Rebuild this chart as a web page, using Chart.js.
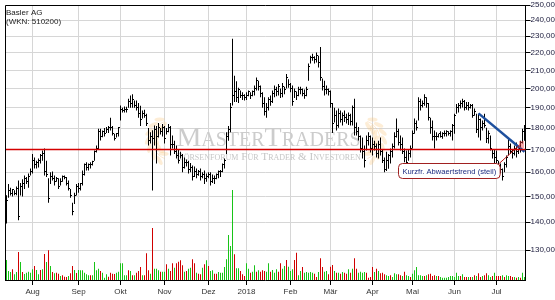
<!DOCTYPE html>
<html>
<head>
<meta charset="utf-8">
<script src="https://cdn.jsdelivr.net/npm/chart.js@4.4.1/dist/chart.umd.min.js"></script>
<style>
  html, body { margin: 0; padding: 0; background: #fff; }
</style>
</head>
<body>
<canvas id="chart-kurs" width="555" height="300"></canvas>
<script>
/* ═══════════════════════════════════════
   Basler AG — Tageschart mit Volumen
═══════════════════════════════════════ */

/* ── Daten ── */
const titel      = ['Basler AG', '(WKN: 510200)'];
const ersterTag  = '2017-07-13';
const letzterTag = '2018-07-20';
const feiertage  = ['2017-12-25', '2017-12-26', '2018-01-01', '2018-03-30', '2018-04-02', '2018-05-01', '2018-05-21'];
const monate     = ['Jan', 'Feb', 'Mär', 'Apr', 'Mai', 'Jun', 'Jul', 'Aug', 'Sep', 'Okt', 'Nov', 'Dez'];
const yTicks     = [130, 140, 150, 160, 170, 180, 190, 200, 210, 220, 230, 240, 250];

const hoch = [
  150.5, 155, 153.5, 153, 152.5, 154, 156.5, 155.5, 157, 158.6,
  158, 159.5, 161.6, 168, 166.4, 165, 166, 168, 169.5, 170.5,
  165, 157.4, 160, 160.3, 158.6, 158, 157.4, 157.4, 158.6, 158.6,
  158, 156.5, 153, 147.5, 151.5, 155, 155.5, 155.5, 160.7, 163.8,
  164.3, 163.8, 164.3, 165, 169.5, 171.8, 179.7, 179.7, 178.8, 180,
  180.5, 181, 185, 181, 177.3, 177.7, 180.5, 191.2, 190, 190.7,
  190.5, 194.7, 196.3, 197, 193.7, 193.7, 192.5, 191, 188.6, 189,
  187, 180, 178, 179, 181.2, 181, 182.5, 180, 182, 181,
  180, 182, 181, 176.5, 174, 171.8, 170, 169, 168, 166.4,
  165.5, 165, 164, 162.9, 162.5, 161.6, 161, 161.6, 160, 160.7,
  159.5, 160, 160, 159, 158.6, 159.5, 160.7, 161, 163.8, 166,
  178, 181, 192.5, 228.5, 207, 204, 200.5, 199, 198, 197,
  198, 199, 198, 199, 201.6, 206, 204.3, 201.6, 198, 195.4,
  192.5, 195.4, 196.3, 199, 201.6, 201, 202.5, 200, 203, 201,
  208, 205, 203, 201.6, 200, 198.5, 201, 201, 200, 199.5,
  201, 213.8, 218.4, 219.5, 218, 220.2, 218.4, 223.5, 205.4, 204.3,
  201.6, 200, 199, 192.5, 190, 188.6, 189.6, 188.6, 187.6, 188.6,
  187, 187.6, 187, 191.2, 194.7, 182.7, 180.5, 176.5, 175.5, 171.8,
  176.5, 178, 176.5, 175.5, 174, 172.7, 174, 175.5, 170, 166.4,
  169, 168, 170.5, 172.7, 178, 184.7, 179.7, 176.5, 175.5, 170.5,
  169.5, 170, 171.8, 178.8, 184.7, 183.7, 195.4, 194.7, 193.7, 197,
  195.4, 192.5, 185, 183.7, 178.8, 178, 177.3, 178.5, 178, 178.8,
  179, 178.5, 179, 182, 187, 192, 192.5, 193.7, 194.7, 194,
  193, 193, 192, 192, 189.6, 187, 187, 184.7, 183.7, 187,
  180.2, 178.8, 176.5, 170, 170, 169.5, 165, 163.8, 161.6, 164.3,
  167.3, 175.5, 172.7, 170, 171.8, 173.2, 170.5, 174, 179.7, 181.5
];

const tief = [
  139.5, 149.5, 150.4, 150, 150.5, 150.5, 140.7, 150.4, 150, 153,
  155, 153.5, 158.6, 159.5, 161.6, 161.6, 162, 163.8, 165, 158.6,
  158, 147.5, 155, 156.5, 154.4, 156, 153, 154.4, 156, 157,
  154.4, 152.4, 149.5, 142.6, 147, 150.4, 151.5, 152.4, 154.4, 158.6,
  160.7, 160.7, 161.6, 162.9, 165, 168.6, 170, 174.1, 175.7, 176,
  177.6, 177.6, 178.8, 176.5, 174.1, 175.5, 176, 183.7, 187.6, 187.6,
  187.6, 190, 190, 190, 190, 188.6, 185, 181, 184.7, 185,
  181, 171.8, 172.7, 152.4, 171.8, 163.8, 175.5, 177, 176, 172.7,
  177, 178, 167.3, 170.5, 168, 166, 163.8, 166, 160, 161.6,
  162.5, 159.5, 160, 156.5, 158, 157.4, 158.5, 156.5, 157.4, 155,
  156, 157.4, 154.4, 155.5, 155, 157, 157.4, 158, 160, 161.6,
  168, 174, 178, 191.2, 193, 193, 192.5, 195, 194, 193.7,
  194, 196, 194.5, 196, 196.3, 199, 199, 195.5, 190, 186.1,
  185, 188.6, 191, 192.5, 195.4, 196, 196.3, 195, 195.4, 197,
  200, 200.5, 198, 191, 195, 194, 196, 197, 196, 194.7,
  196, 204.3, 213.8, 215.5, 213.8, 214.4, 211.6, 204.3, 199, 196.3,
  197, 196.3, 190, 177.6, 182.7, 178.8, 180.2, 182.7, 181.2, 183,
  182.2, 181.5, 181.2, 181.2, 176.5, 176.5, 174.1, 168.6, 166, 162,
  169.5, 171.8, 168.6, 167.3, 169.5, 166.4, 166, 167.3, 164, 160,
  160.5, 161.5, 163.8, 166.4, 170.5, 175.5, 171.8, 169.5, 168, 164.3,
  162, 165, 166.4, 170.5, 177.3, 178.8, 183.7, 188.6, 190.2, 191,
  190, 183.7, 177.3, 174.1, 170.5, 174.1, 175.5, 175.5, 175, 176,
  176, 176.5, 176, 174.1, 177.3, 187, 187.6, 189.6, 190.2, 188.6,
  189, 188.6, 189.6, 185, 186, 177.7, 175.5, 174.1, 178.8, 180.2,
  173, 172.7, 169.5, 166, 162.9, 163.8, 160.7, 159.6, 156.5, 160,
  162, 167.3, 168, 166, 167.3, 166.4, 168, 168.6, 172.7, 174
];

const schluss = [
  148, 152, 151, 152.5, 151, 153, 142, 154, 155, 157,
  156, 158, 160, 165, 163, 164, 165, 167, 168, 160,
  159, 149, 158, 157, 156, 157, 154, 156, 158, 157.5,
  155, 153, 150, 144, 150, 154, 153, 155, 159, 163,
  162, 163, 163, 164.5, 169, 170, 178, 176, 178, 177,
  179, 180, 180, 177, 175, 177, 180, 189, 188.5, 189,
  189, 193, 192, 194, 191, 190, 187, 184, 187, 186,
  182, 174, 176, 175, 179, 176, 180, 178, 180, 175,
  178, 180, 172, 172, 169, 167, 165, 167, 162, 164,
  164, 161, 162, 158, 160, 159, 160, 158, 159, 157,
  158, 159, 156, 157, 157, 159, 160, 160, 163, 165,
  176, 179, 190, 196, 198, 195, 199, 196, 196, 195,
  196, 198, 196, 198, 200, 204, 201, 197, 192, 188,
  190, 194, 193, 197, 199, 198, 201, 197, 201, 199,
  206, 202, 200, 193, 198, 196, 199, 199, 197, 196,
  199, 212, 217, 217, 216, 218, 214, 206, 201, 199,
  199, 198, 192, 182, 186, 181, 187, 184, 186, 185,
  184, 186, 183, 190, 180, 178, 176, 170, 169, 165,
  174, 176, 170, 172, 171, 168, 172, 169, 165, 161,
  165, 167, 169, 171, 176, 178, 173, 172, 169, 166,
  164, 168, 170, 177, 182, 180, 193, 191, 192, 195,
  192, 185, 180, 176, 176, 176, 177, 176, 177, 177,
  178, 177, 178, 181, 186, 190, 191, 192, 193, 190,
  191, 190, 191, 186, 188, 179, 184, 180, 182, 181,
  175, 177, 170, 168, 166, 165, 162, 161, 158, 163,
  166, 171, 169, 168, 170, 169, 170, 173, 178, 180
];

// Volumen in Tsd. Stück
const volumen = [
  20, 9, 8, 10.7, 5.7, 8, 28, 18, 8, 6,
  7.3, 8.3, 7.3, 10.7, 14, 10, 5.7, 10, 10.7, 26,
  18, 29.7, 14, 8, 6.7, 7.3, 6.3, 4, 4.7, 3.3,
  3, 4, 6.7, 14, 10, 7, 10, 9.7, 9.7, 7.3,
  5.7, 4.7, 4.7, 4.7, 18, 9.7, 11.3, 9, 7.3, 2.3,
  5.7, 3.3, 7.3, 6.3, 6, 7.3, 8.3, 16.7, 16.7, 4.7,
  4.7, 9.7, 9, 4.7, 4.7, 7.3, 9, 13, 4.7, 4.7,
  26.7, 9.7, 6.3, 52, 11.3, 11.3, 9.7, 8.3, 8.3, 8.3,
  15.7, 11.3, 9, 16.7, 12.3, 16.7, 18.3, 19.7, 14.7, 8.3,
  9, 11.3, 12.3, 20.7, 16.7, 7.3, 6.3, 5.7, 12.3, 15.7,
  19.7, 14, 9, 9.7, 6.3, 6.3, 8, 7.3, 7.3, 13,
  20.7, 45, 34, 90, 25.7, 11.7, 11.7, 9, 5.7, 4,
  16.7, 11.3, 7.3, 8.3, 14.7, 8.3, 9.7, 8.3, 9.7, 9,
  8.3, 16.7, 8.3, 10, 7.3, 10.7, 8.3, 16.7, 11.3, 14,
  20, 13.3, 9, 10.7, 20, 27.3, 4.7, 9, 13, 7.3,
  8, 7.3, 8, 7.3, 6.3, 3, 8, 21.7, 13, 8.3,
  9, 5.7, 13.3, 15, 9, 7.3, 7.3, 6.3, 8, 7.3,
  6.3, 10.7, 7.3, 11.3, 21.7, 11.3, 7.3, 8.3, 7.3, 8,
  7.3, 2.3, 3, 13, 8, 11.3, 9, 6.7, 7.3, 5.7,
  4.7, 4, 4.7, 3, 6.7, 5.7, 5.7, 4.7, 4, 8.3,
  4.7, 4, 3, 6.3, 9.7, 13, 4.7, 4.7, 4, 4,
  4.7, 5.7, 6.3, 4, 4.7, 4, 4, 3, 2.3, 2.3,
  2.3, 3, 4, 4, 3, 7.3, 4, 4, 5.7, 3,
  3, 3, 3, 3, 4.7, 4, 6.7, 3, 4, 4.7,
  6.7, 4.7, 3, 4, 7.3, 4, 4, 4, 4.7, 3,
  4.7, 4, 4, 3, 3, 2.3, 3, 2.3, 7.3, 3
];

// g = steigend, r = fallend
const volRichtung =
  'gggrggrgrg' + 'ggggrggrgr' + 'grgrgrrgrr' + 'rgrrgrgggg' + 'ggrggggrgg' +
  'grrrrggggg' + 'grgrgrrrgr' + 'rrgrgggrgg' + 'rgrrgrrrrg' + 'rggrrgrrgr' +
  'grggrrgggg' + 'ggggrggrrr' + 'ggrggrgrrr' + 'ggrgggrrgg' + 'rgggrrggrg' +
  'ggggrrgrrg' + 'grrrgrgrgr' + 'rgrgrrgggg' + 'rrrrgrgrrr' + 'ggrgggrrgr' +
  'ggrggggggr' + 'grrrrgrggg' + 'gggggggrgr' + 'rgrgrgrrgr' + 'rggrgrrrgr' +
  'ggrrgrgrgg';

const unterstuetzung = 170.4;
const trendPunkte    = [[236, 187.2], [259, 169.0]];
const notizText      = 'Kurzfr. Abwaertstrend (steil)';
const notizAnker     = [221, 160.8];
const notizZiel      = [257, 172.4];

/* ── Handelstage ── */
function handelstage(von, bis, ohne) {
  const out = [];
  const d = new Date(von + 'T12:00:00Z');
  const ende = new Date(bis + 'T12:00:00Z');
  while (d <= ende) {
    const wt = d.getUTCDay();
    const iso = d.toISOString().slice(0, 10);
    if (wt !== 0 && wt !== 6 && !ohne.includes(iso)) out.push(iso);
    d.setUTCDate(d.getUTCDate() + 1);
  }
  return out;
}

const tage = handelstage(ersterTag, letzterTag, feiertage);
const trendDaten = tage.map(() => null);
trendPunkte.forEach(([i, v]) => { trendDaten[i] = v; });

const SCHRIFT = '"Liberation Sans", Arial, sans-serif';

/* ── Lorbeer fürs Wasserzeichen ── */
function lorbeer(ctx, cx, cy, r, seite) {
  ctx.save();
  ctx.fillStyle = 'rgba(248,196,120,0.3)';
  ctx.strokeStyle = 'rgba(248,196,120,0.35)';
  ctx.lineWidth = 1;
  const a0 = seite < 0 ? Math.PI * 0.62 : -Math.PI * 0.38;
  const a1 = seite < 0 ? Math.PI * 1.38 : Math.PI * 0.38;
  ctx.beginPath();
  ctx.arc(cx, cy, r, Math.min(a0, a1), Math.max(a0, a1));
  ctx.stroke();
  for (let k = 0; k < 7; k++) {
    const a = a0 + (a1 - a0) * (k + 0.5) / 7;
    [-1, 1].forEach(s => {
      const rr = r + s * 4;
      const px = cx + rr * Math.cos(a);
      const py = cy + rr * Math.sin(a);
      ctx.beginPath();
      ctx.ellipse(px, py, 5, 2, a + Math.PI / 2 + s * 0.5 * (seite < 0 ? 1 : -1), 0, Math.PI * 2);
      ctx.fill();
    });
  }
  ctx.restore();
}

/* ── Deko-Plugin: Wasserzeichen, Linien, Notiz, Titel ── */
const deko = {
  id: 'deko',
  beforeDatasetsDraw(chart) {
    const { ctx, chartArea: ca } = chart;
    const mitte = (ca.left + ca.right) / 2 + 3;
    ctx.save();
    lorbeer(ctx, 172, 140, 20, -1);
    lorbeer(ctx, 360, 140, 20, 1);

    ctx.fillStyle = '#cccccc';
    ctx.textAlign = 'center';
    ctx.textBaseline = 'alphabetic';
    ctx.font = 'small-caps 26px "Liberation Serif", serif';
    let w = ctx.measureText('MasterTraders').width;
    ctx.font = 'small-caps ' + (26 * 180 / w).toFixed(1) + 'px "Liberation Serif", serif';
    ctx.fillText('MasterTraders', mitte, 146);

    ctx.fillStyle = '#c6c6c6';
    ctx.font = 'small-caps 10px "Liberation Serif", serif';
    w = ctx.measureText('Börsenforum Für Trader & Investoren').width;
    ctx.font = 'small-caps ' + (10 * 182 / w).toFixed(1) + 'px "Liberation Serif", serif';
    ctx.fillText('Börsenforum Für Trader & Investoren', mitte, 160);
    ctx.restore();
  },
  afterDatasetsDraw(chart) {
    const { ctx, chartArea: ca } = chart;
    const x = chart.scales.x, y = chart.scales.y;
    const meta = chart.getDatasetMeta(1);

    ctx.save();
    // Schlusskurs-Häkchen
    ctx.fillStyle = '#000';
    meta.data.forEach((bar, i) => {
      ctx.fillRect(Math.floor(bar.x) + 1, Math.round(y.getPixelForValue(schluss[i])) - 1, 1, 1);
    });

    // Unterstützung
    const yu = Math.round(y.getPixelForValue(unterstuetzung)) + 0.5;
    ctx.strokeStyle = '#d40000';
    ctx.lineWidth = 1.5;
    ctx.beginPath();
    ctx.moveTo(ca.left, yu);
    ctx.lineTo(ca.right, yu);
    ctx.stroke();

    // Notiz
    ctx.font = '7.6px ' + SCHRIFT;
    const tw = ctx.measureText(notizText).width;
    const bx = x.getPixelForValue(notizAnker[0]), by = y.getPixelForValue(notizAnker[1]);
    const bw = tw + 8, bh = 15;
    const l = Math.round(bx - bw / 2) + 0.5, t = Math.round(by - bh / 2) + 0.5;

    const zx = x.getPixelForValue(notizZiel[0]), zy = y.getPixelForValue(notizZiel[1]);
    ctx.strokeStyle = '#c01818';
    ctx.lineWidth = 1;
    ctx.beginPath();
    ctx.moveTo(l + bw - 1, t);
    ctx.lineTo(zx, zy);
    ctx.stroke();
    ctx.fillStyle = 'rgba(240,70,70,0.45)';
    ctx.fillRect(Math.round(zx) - 2, Math.round(zy) - 3, 5, 7);

    ctx.fillStyle = '#fff';
    ctx.strokeStyle = '#a02020';
    ctx.beginPath();
    ctx.roundRect(l, t, bw, bh, 4);
    ctx.fill();
    ctx.stroke();
    ctx.fillStyle = '#1c2c80';
    ctx.textAlign = 'center';
    ctx.textBaseline = 'middle';
    ctx.fillText(notizText, l + bw / 2, t + bh / 2 + 0.5);
    ctx.restore();
  },
  afterDraw(chart) {
    const { ctx, chartArea: ca } = chart;
    ctx.save();
    ctx.strokeStyle = '#000';
    ctx.lineWidth = 1;
    ctx.beginPath();
    ctx.moveTo(Math.floor(ca.left) + 0.5, ca.bottom);
    ctx.lineTo(Math.floor(ca.left) + 0.5, Math.floor(ca.top) + 0.5);
    ctx.lineTo(ca.right, Math.floor(ca.top) + 0.5);
    ctx.stroke();

    ctx.fillStyle = '#222';
    ctx.font = '8px ' + SCHRIFT;
    ctx.textAlign = 'left';
    ctx.textBaseline = 'alphabetic';
    ctx.fillText(titel[0], 6, 15);
    ctx.fillText(titel[1], 6, 24);
    ctx.restore();
  }
};

/* ── Diagramm ── */
const ctx = document.getElementById('chart-kurs').getContext('2d');
new Chart(ctx, {
  type: 'bar',
  data: {
    labels: tage,
    datasets: [
      {
        label: 'Volumen',
        yAxisID: 'vol',
        data: volumen,
        backgroundColor: volRichtung.split('').map(c => c === 'g' ? '#18c418' : '#d00000'),
        barThickness: 1,
        grouped: false,
        inflateAmount: 0,
        order: 5,
      },
      {
        label: 'Kurs',
        yAxisID: 'y',
        data: hoch.map((h, i) => [tief[i], h]),
        backgroundColor: '#000',
        barThickness: 1,
        grouped: false,
        inflateAmount: 0,
        order: 3,
      },
      {
        type: 'line',
        label: 'Trend',
        yAxisID: 'y',
        data: trendDaten,
        spanGaps: true,
        borderColor: '#1e509e',
        borderWidth: 2.5,
        pointRadius: 0,
        order: 1,
      },
    ]
  },
  options: {
    responsive: false,
    animation: false,
    devicePixelRatio: 1,
    layout: { padding: { left: 5.5, top: 5, right: 0, bottom: 0 } },
    plugins: {
      legend: { display: false },
      tooltip: { enabled: false },
    },
    scales: {
      x: {
        offset: true,
        grid: { offset: false, color: '#d6d6d6', tickColor: '#000', tickLength: 5 },
        border: { color: '#000' },
        afterBuildTicks: s => {
          s.ticks = s.ticks.filter(t => t.value > 0 && tage[t.value].slice(5, 7) !== tage[t.value - 1].slice(5, 7));
        },
        afterFit: s => { s.height = 20; },
        ticks: {
          autoSkip: false,
          maxRotation: 0,
          padding: 2,
          color: '#333',
          font: { family: SCHRIFT, size: 8 },
          callback: v => {
            const m = +tage[v].slice(5, 7) - 1;
            return m === 0 ? tage[v].slice(0, 4) : monate[m];
          },
        },
      },
      y: {
        type: 'logarithmic',
        position: 'right',
        min: 120,
        max: 250,
        grid: { color: '#d6d6d6', tickColor: '#000', tickLength: 5 },
        border: { color: '#000' },
        afterBuildTicks: s => { s.ticks = yTicks.map(v => ({ value: v })); },
        afterFit: s => { s.width = 29.5; },
        ticks: {
          padding: 0,
          color: '#202040',
          font: { family: SCHRIFT, size: 8 },
          callback: v => v.toFixed(2).replace('.', ','),
        },
      },
      vol: {
        display: false,
        min: 0,
        max: 275,
      },
    },
  },
  plugins: [deko],
});
</script>
</body>
</html>
